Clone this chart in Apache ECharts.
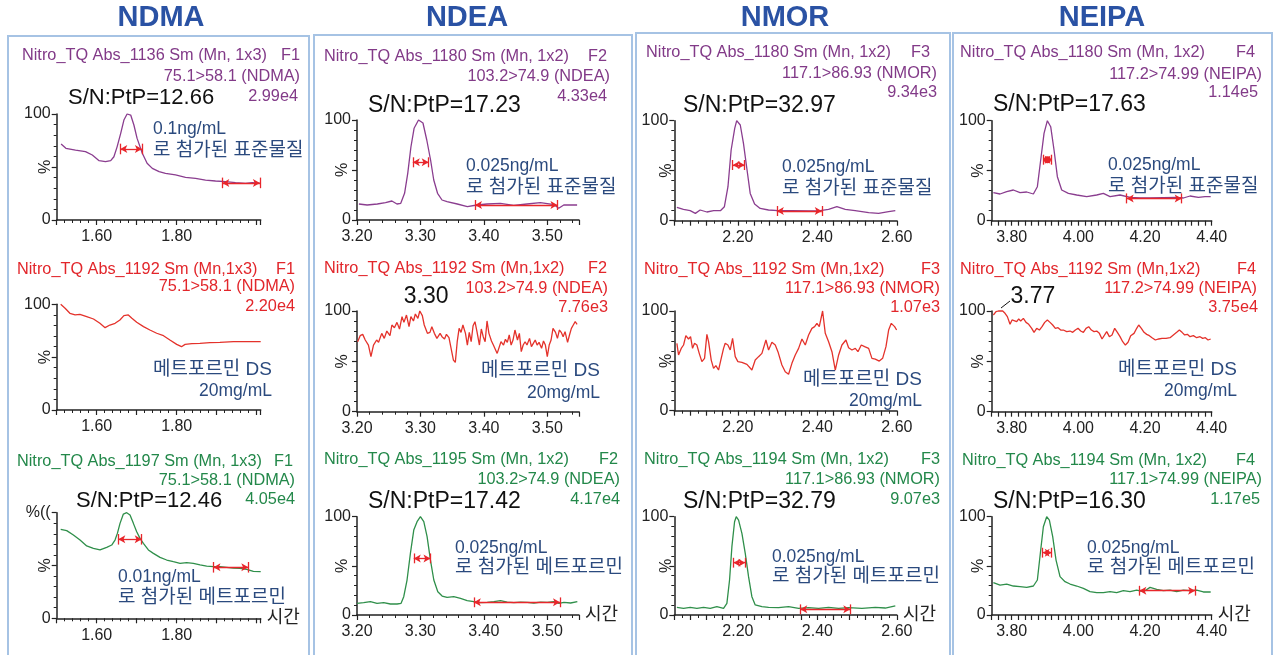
<!DOCTYPE html>
<html><head><meta charset="utf-8">
<script src="https://cdn.jsdelivr.net/npm/echarts@6/dist/echarts.min.js"></script>
<style>html,body{margin:0;padding:0;background:#fff}#c{width:1275px;height:655px}</style>
</head><body><div id="c"></div>
<script>
// ---------------- DATA ----------------
const compounds = ['NDMA', 'NDEA', 'NMOR', 'NEIPA'];
const xTicksNDMA = ['1.60', '1.80'];
const xTicksNDEA = ['3.20', '3.30', '3.40', '3.50'];
const xTicksNMOR = ['2.20', '2.40', '2.60'];
const xTicksNEIPA = ['3.80', '4.00', '4.20', '4.40'];
const yTopLabels = ['100','100','100','100','100','100','100','100','%((','100','100','100'];
const yMidLabel = '%';

const headerL1 = ['Nitro_TQ Abs_1136 Sm (Mn, 1x3)','Nitro_TQ Abs_1180 Sm (Mn, 1x2)','Nitro_TQ Abs_1180 Sm (Mn, 1x2)','Nitro_TQ Abs_1180 Sm (Mn, 1x2)',
  'Nitro_TQ Abs_1192 Sm (Mn,1x3)','Nitro_TQ Abs_1192 Sm (Mn,1x2)','Nitro_TQ Abs_1192 Sm (Mn,1x2)','Nitro_TQ Abs_1192 Sm (Mn,1x2)',
  'Nitro_TQ Abs_1197 Sm (Mn, 1x3)','Nitro_TQ Abs_1195 Sm (Mn, 1x2)','Nitro_TQ Abs_1194 Sm (Mn, 1x2)','Nitro_TQ Abs_1194 Sm (Mn, 1x2)'];
const functionIds = ['F1','F2','F3','F4','F1','F2','F3','F4','F1','F2','F3','F4'];
const transitions = ['75.1>58.1 (NDMA)','103.2>74.9 (NDEA)','117.1>86.93 (NMOR)','117.2>74.99 (NEIPA)',
  '75.1>58.1 (NDMA)','103.2>74.9 (NDEA)','117.1>86.93 (NMOR)','117.2>74.99 (NEIPA)',
  '75.1>58.1 (NDMA)','103.2>74.9 (NDEA)','117.1>86.93 (NMOR)','117.1>74.99 (NEIPA)'];
const intensities = ['2.99e4','4.33e4','9.34e3','1.14e5','2.20e4','7.76e3','1.07e3','3.75e4','4.05e4','4.17e4','9.07e3','1.17e5'];
const snTexts = ['S/N:PtP=12.66','S/N:PtP=17.23','S/N:PtP=32.97','S/N:PtP=17.63',null,null,null,null,
  'S/N:PtP=12.46','S/N:PtP=17.42','S/N:PtP=32.79','S/N:PtP=16.30'];
const notes = [['0.1ng/mL','로 첨가된 표준물질'],['0.025ng/mL','로 첨가된 표준물질'],['0.025ng/mL','로 첨가된 표준물질'],['0.025ng/mL','로 첨가된 표준물질'],
  ['메트포르민 DS','20mg/mL'],['메트포르민 DS','20mg/mL'],['메트포르민 DS','20mg/mL'],['메트포르민 DS','20mg/mL'],
  ['0.01ng/mL','로 첨가된 메트포르민'],['0.025ng/mL','로 첨가된 메트포르민'],['0.025ng/mL','로 첨가된 메트포르민'],['0.025ng/mL','로 첨가된 메트포르민']];

// row 1: spiked standards
const ndmaStd = [[1.511,71.7],[1.523,67.6],[1.547,66],[1.572,64.5],[1.589,61.3],[1.606,56],[1.622,55],[1.635,56],[1.643,59.7],[1.651,69],[1.66,81.8],[1.668,94.3],[1.676,100],[1.685,99],[1.693,89.6],[1.701,77],[1.714,62.9],[1.726,53.5],[1.739,48.7],[1.756,45.6],[1.772,44],[1.797,42.5],[1.822,40.3],[1.847,39.3],[1.872,37.7],[1.897,36.8],[1.922,36.2],[1.947,35.2],[1.972,34.6],[1.989,35.2],[2.01,34.6]];
const ndeaStd = [[3.203,16],[3.216,15],[3.232,16],[3.245,17.3],[3.255,19],[3.263,16],[3.269,16.7],[3.275,26.7],[3.28,46.7],[3.285,73],[3.29,91.7],[3.297,100],[3.304,97],[3.31,80],[3.316,60],[3.321,40],[3.327,26.7],[3.334,20],[3.342,18.3],[3.358,16],[3.374,13.3],[3.389,15],[3.405,16],[3.426,16.7],[3.447,14.7],[3.468,16],[3.489,17.3],[3.511,15.3],[3.518,11.7],[3.526,15],[3.547,15]];
const nmorStd = [[2.0465,13.3],[2.063,11.3],[2.08,10],[2.093,7.3],[2.105,10.7],[2.122,8.7],[2.139,10],[2.156,10],[2.166,14],[2.175,34],[2.183,70.7],[2.192,92.3],[2.197,100],[2.206,95.7],[2.214,77.3],[2.223,50.7],[2.231,27.3],[2.242,16.7],[2.256,12.3],[2.277,10.7],[2.302,10],[2.336,10],[2.378,9.7],[2.407,10],[2.428,11.3],[2.449,14],[2.47,11.3],[2.495,10],[2.529,8],[2.554,7.3],[2.579,9],[2.596,10]];
const neipaStd = [[3.745,28],[3.765,26.7],[3.785,29],[3.805,30.7],[3.825,28],[3.845,28.7],[3.865,26.7],[3.877,34],[3.887,60.7],[3.897,87.3],[3.907,100],[3.917,94],[3.927,70.7],[3.937,44],[3.95,30.7],[3.97,27.3],[3.995,25.7],[4.025,24],[4.055,25.7],[4.075,27.3],[4.095,24],[4.125,25.7],[4.155,23.3],[4.185,22.7],[4.215,22.7],[4.255,23],[4.295,23.3],[4.315,22.7],[4.335,24.7],[4.36,23.3],[4.38,24],[4.397,24]];

// row 2: metformin DS blanks
const ndmaDS = [[1.51,100],[1.521,96.2],[1.533,91.5],[1.546,90],[1.558,90.5],[1.575,88.3],[1.592,86.1],[1.608,82],[1.621,77.9],[1.633,80.4],[1.646,82],[1.658,85.2],[1.668,89.3],[1.679,89.9],[1.688,86.8],[1.70,83],[1.717,78.9],[1.733,75.7],[1.75,72.6],[1.767,70.3],[1.783,66.2],[1.80,62.1],[1.812,59.9],[1.821,62.1],[1.838,62.8],[1.858,63.1],[1.883,63.7],[1.908,64],[1.942,64.7],[1.975,64.7],[2.01,64.7]];
const ndeaDS = [[3.201,69.5],[3.205,75.5],[3.209,76.8],[3.213,71.2],[3.218,66.2],[3.222,54.6],[3.226,66.2],[3.231,71.2],[3.234,68.9],[3.239,77.8],[3.243,72.8],[3.247,80.1],[3.252,75.5],[3.255,86.1],[3.259,83.4],[3.263,88.7],[3.267,82.1],[3.271,94.4],[3.274,88.7],[3.278,96],[3.282,84.4],[3.285,94.4],[3.289,90.1],[3.292,97],[3.296,92.7],[3.299,100],[3.303,95.4],[3.306,86.1],[3.311,77.8],[3.315,78.8],[3.318,84.4],[3.322,77.8],[3.326,72.8],[3.331,77.8],[3.334,74.5],[3.338,72.2],[3.341,76.8],[3.345,73.5],[3.348,74.5],[3.352,51.3],[3.355,49],[3.358,69.5],[3.361,82.8],[3.364,78.8],[3.367,86.1],[3.371,77.8],[3.374,66.2],[3.377,78.8],[3.38,69.5],[3.383,85.4],[3.386,89.4],[3.389,80.1],[3.393,66.2],[3.396,82.1],[3.399,74.5],[3.402,69.5],[3.405,90.1],[3.408,77.8],[3.412,70.2],[3.415,66.2],[3.418,66.2],[3.421,57.9],[3.424,59.6],[3.427,69.5],[3.431,66.2],[3.434,71.9],[3.437,68.9],[3.44,76.2],[3.443,66.2],[3.446,71.2],[3.449,81.1],[3.453,71.2],[3.456,77.8],[3.459,59.6],[3.462,66.2],[3.465,69.5],[3.468,66.2],[3.472,72.8],[3.475,64.6],[3.478,67.9],[3.481,71.2],[3.484,66.2],[3.487,68.9],[3.491,62.9],[3.494,70.2],[3.497,66.2],[3.5,54.6],[3.503,66.2],[3.506,71.2],[3.509,82.8],[3.513,78.8],[3.516,72.8],[3.519,81.1],[3.522,78.8],[3.525,74.5],[3.528,79.5],[3.532,68.9],[3.535,76.2],[3.538,82.8],[3.541,86.1],[3.544,89.4],[3.547,86.8]];
const nmorDS = [[2.0465,67.6],[2.0507,55.9],[2.0574,62.5],[2.0633,65.9],[2.0691,75.3],[2.0758,71.9],[2.0809,74.2],[2.0859,62.5],[2.0909,67.6],[2.0968,65.9],[2.1027,57.5],[2.1094,49.2],[2.1161,52.5],[2.122,76.6],[2.1262,69.2],[2.1329,50.8],[2.1388,42.5],[2.1446,45.2],[2.1513,40.8],[2.158,52.5],[2.1639,62.5],[2.1681,67.6],[2.1748,65.9],[2.1807,60.9],[2.1866,72.6],[2.1933,54.2],[2.2,49.2],[2.2101,48.5],[2.2227,46.5],[2.2352,40.8],[2.2436,50.8],[2.252,54.2],[2.2604,57.5],[2.2705,70.9],[2.2772,60.9],[2.2856,68.6],[2.294,65.9],[2.3007,59.2],[2.3107,45.8],[2.3191,39.1],[2.3275,36.5],[2.3359,47.5],[2.3443,55.9],[2.3527,62.5],[2.3611,71.9],[2.3695,65.9],[2.3779,75.9],[2.3862,82.6],[2.393,84.3],[2.3988,87.6],[2.4047,84.3],[2.4131,100],[2.4198,77.6],[2.4282,69.2],[2.4366,59.2],[2.445,40.8],[2.4534,55.9],[2.4617,65.9],[2.4718,70.9],[2.4785,63.2],[2.4869,60.9],[2.4953,62.5],[2.502,59.2],[2.5104,65.9],[2.5188,64.2],[2.5289,62.5],[2.5372,52.5],[2.5456,51.8],[2.5557,49.8],[2.5641,52.5],[2.5725,64.2],[2.5792,80.9],[2.5859,87.6],[2.5943,84.3],[2.5993,80.9]];
const neipaDS = [[3.745,96],[3.753,99.3],[3.76,100],[3.765,99.3],[3.773,100],[3.78,97.7],[3.787,94.4],[3.795,86.8],[3.801,91.1],[3.807,92.1],[3.815,89.4],[3.821,92.1],[3.827,90.1],[3.835,92.7],[3.843,88.7],[3.851,86.8],[3.86,82.8],[3.867,78.8],[3.875,82.8],[3.883,81.1],[3.891,84.4],[3.899,88.7],[3.907,91.1],[3.915,88.7],[3.923,86.1],[3.931,82.8],[3.939,83.4],[3.947,81.1],[3.955,81.1],[3.965,79.5],[3.975,80.1],[3.983,78.8],[3.991,81.1],[3.999,82.8],[4.007,80.1],[4.015,78.8],[4.023,82.8],[4.031,84.4],[4.039,81.1],[4.047,79.5],[4.055,80.1],[4.063,77.8],[4.071,72.2],[4.077,72.8],[4.085,79.5],[4.093,74.5],[4.101,76.2],[4.109,82.8],[4.117,78.8],[4.125,74.5],[4.133,69.5],[4.141,66.2],[4.149,68.9],[4.157,75.5],[4.167,77.8],[4.175,82.8],[4.181,86.1],[4.189,82.8],[4.197,78.8],[4.205,76.8],[4.213,75.5],[4.221,73.5],[4.231,71.2],[4.241,72.2],[4.251,72.8],[4.263,72.8],[4.275,73.5],[4.285,76.2],[4.295,78.8],[4.303,81.1],[4.311,78.8],[4.319,76.2],[4.327,76.8],[4.335,74.5],[4.345,75.5],[4.355,73.5],[4.365,74.5],[4.373,72.8],[4.381,73.5],[4.389,71.2],[4.397,72.2]];

// row 3: spiked metformin
const ndmaSpk = [[1.51,84.2],[1.525,83],[1.5417,78.9],[1.5583,74.1],[1.575,68.5],[1.5917,66.2],[1.6083,64.7],[1.625,67.2],[1.6375,69.4],[1.6458,74.1],[1.6517,80.4],[1.6583,89.9],[1.6667,98.7],[1.675,100],[1.6833,97.8],[1.6917,89.9],[1.70,82],[1.7083,75.7],[1.7167,71],[1.7292,64.7],[1.7417,61.5],[1.7583,57.7],[1.775,55.2],[1.7917,53.6],[1.8083,52.1],[1.825,52.7],[1.8417,52.1],[1.8583,50.5],[1.875,49.5],[1.8917,48.9],[1.9083,48.9],[1.925,48.3],[1.9417,47.6],[1.9583,47.3],[1.975,46.4],[1.9917,44.5],[2.01,44.2]];
const ndeaSpk = [[3.2,11.9],[3.2105,12.5],[3.2211,13.6],[3.2316,11.9],[3.2421,12.5],[3.2526,11.2],[3.2632,11.2],[3.2695,11.9],[3.2737,18.6],[3.2789,35.6],[3.2842,62.7],[3.2895,86.4],[3.2947,94.9],[3.30,100],[3.3053,94.9],[3.3105,79.7],[3.3158,55.9],[3.3211,35.6],[3.3274,23.7],[3.3342,19.3],[3.3421,18],[3.3526,18.6],[3.3632,16.9],[3.3737,14.6],[3.3842,13.6],[3.3947,12.5],[3.4053,12.9],[3.4158,13.6],[3.4263,14.6],[3.4368,13.2],[3.4474,12.5],[3.4579,13.2],[3.4684,12.9],[3.4789,12.2],[3.4895,13.2],[3.50,12.9],[3.5105,13.6],[3.5184,11.9],[3.5263,12.9],[3.5368,12.2],[3.5474,13.6]];
const nmorSpk = [[2.0465,7.8],[2.0633,6.8],[2.08,7.8],[2.0968,6.8],[2.1136,7.8],[2.1304,6.8],[2.1471,8.5],[2.1639,6.8],[2.1723,11.9],[2.179,35.6],[2.1849,69.5],[2.1916,94.9],[2.1958,100],[2.2017,96.6],[2.2101,83.1],[2.2185,62.7],[2.2268,39],[2.2352,18.6],[2.2436,10.2],[2.2604,8.5],[2.2772,7.8],[2.3023,7.5],[2.3275,8.5],[2.3527,6.8],[2.3779,7.5],[2.403,6.8],[2.4282,7.8],[2.4534,6.8],[2.4785,7.5],[2.5121,6.8],[2.5456,7.8],[2.5708,7.1],[2.596,9.2]];
const neipaSpk = [[3.745,32.9],[3.765,30.5],[3.785,31.5],[3.805,29.5],[3.825,28.8],[3.845,28.1],[3.865,29.5],[3.877,35.6],[3.887,66.1],[3.895,89.8],[3.905,100],[3.913,96.6],[3.923,79.7],[3.933,55.9],[3.945,39],[3.96,33.9],[3.975,31.5],[3.995,29.5],[4.015,27.1],[4.035,23.7],[4.055,22.7],[4.075,22.7],[4.095,23.7],[4.115,22.7],[4.135,24.7],[4.155,23.7],[4.175,25.4],[4.195,23.7],[4.215,28.1],[4.235,26.1],[4.255,24.7],[4.275,25.4],[4.295,23.7],[4.315,25.4],[4.335,24.7],[4.355,25.4],[4.375,23.4],[4.397,23.4]];

// peak-width and noise-window markers: [start, end, level %]
const fwhmMarks = [[1.659,1.713,67],[3.288,3.313,57.7],[2.187,2.217,55.7],[3.895,3.92,61],null,null,null,null,[1.654,1.7125,74.8],[3.2895,3.3158,57.6],[2.189,2.2185,53.2],[3.893,3.92,63.4]];
const noiseMarks = [[1.914,2.008,35],[3.386,3.516,15],[2.298,2.411,9.7],[4.145,4.31,22.3],null,null,null,null,[1.892,1.979,48.3],[3.3842,3.52,12.9],[2.3569,2.4827,5.8],[4.183,4.35,24.7]];
// apex dot drawn on the NEIPA standard peak-width marker: [rt, %]
const apexDots = [null,null,null,[3.907,61],null,null,null,null,null,null,null,null];
// retention-time labels on blank traces: [rt, %, text]
const rtLabels = [null,null,null,null,null,[3.309,100,'3.30'],null,[3.765,100,'3.77'],null,null,null,null];

// ---------------- LAYOUT / STYLE ----------------
const traces = [ndmaStd, ndeaStd, nmorStd, neipaStd, ndmaDS, ndeaDS, nmorDS, neipaDS, ndmaSpk, ndeaSpk, nmorSpk, neipaSpk];
const FONT = "'Liberation Sans', Arial, 'Noto Sans CJK KR', sans-serif";
const rowTraceColor = ['#8a3d8f', '#e4322b', '#2f8f4a'];
const rowTextColor = ['#823a88', '#e2262b', '#23884a'];
const RED = '#e8262b';
const NOTE = '#2b4a7e';
const xCfg = [
  {min:1.50, max:2.01, interval:0.1, minor:5, labels:xTicksNDMA},
  {min:3.20, max:3.55, interval:0.1, minor:5, labels:xTicksNDEA},
  {min:2.04, max:2.60, interval:0.04, minor:2, labels:xTicksNMOR},
  {min:3.74, max:4.40, interval:0.02, minor:0, labels:xTicksNEIPA}
];
const gridBox = [
  [56.7,114,204,106],[357,120,222,100],[674.3,120.7,222.6,100],[991.7,120.7,220,100],
  [56.7,304.3,204,105.7],[357,311,222,100.7],[674.3,311,222.6,99.7],[991.7,311,220,100.7],
  [56.7,512.7,204,105.6],[357,516.7,222,98.3],[674.3,516.7,222.6,98.3],[991.7,516.7,220,98.3]
];
const pctGap = [11,14,8,13, 11,14,8,13, 11,14,8,13];
// text layout: l1x,l1y,fR,l2R,l2y,l3R,l3y,snx,sny,snSize,noteX,noteY1,noteY2,noteAlign
const txt = [
  [22,56,300,300,77,298,97,68,98,22,153,129,151,'left'],
  [324,57,607,610,77,607,97,368,106,23,466,166,188,'left'],
  [646,53,930,937,74,937,93,683,106,23,782,167,189,'left'],
  [960,53,1255,1262,75,1258,93,993,105,23,1108,165,187,'left'],
  [17,270,295,295,287,295,307,0,0,0,272,370,391,'right'],
  [324,269,607,608,289,608,308,0,0,0,600,371,393,'right'],
  [644,270,940,940,289,940,308,0,0,0,922,380,401,'right'],
  [960,270,1256,1257,289,1258,308,0,0,0,1237,370,391,'right'],
  [17,462,293,295,481,295,500,76,501,22,118,577,598,'left'],
  [324,460,618,620,480,620,500,368,502,23,455,548,568,'left'],
  [644,460,940,940,480,940,500,683,502,23,772,557,577,'left'],
  [962,461,1255,1262,480,1260,500,993,502,23,1087,548,568,'left']
];

function T(x, y, text, o, extra) {
  return Object.assign({type:'text', x:x, y:y, silent:true, z:10,
    style: Object.assign({text:text, fill:'#111', fontSize:16.3, fontFamily:FONT,
      align:'left', textAlign:'left', verticalAlign:'middle', textVerticalAlign:'middle'}, o || {})}, extra || {});
}

const grids = [], xAxes = [], yAxes = [], series = [], graphics = [];

// panel frames and titles
[[8,36,301,640],[314,35,318,640],[636,33,314,640],[953,33,319,640]].forEach(b => {
  graphics.push({type:'rect', silent:true, shape:{x:b[0], y:b[1], width:b[2], height:b[3]},
    style:{fill:'none', stroke:'#a6c3e4', lineWidth:2}});
});
[161, 467, 785, 1102].forEach((cx, i) => {
  graphics.push(T(cx, 18, compounds[i], {fontSize:29, fontWeight:'bold', fill:'#2a52a4', align:'center', textAlign:'center'}));
});

traces.forEach((d, i) => {
  const row = Math.floor(i / 4), col = i % 4, xc = xCfg[col], g = gridBox[i];
  grids.push({left:g[0], top:g[1], width:g[2], height:g[3], containLabel:false, outerBoundsMode:'none'});
  xAxes.push({
    type:'value', gridIndex:i, min:xc.min, max:xc.max, interval:xc.interval,
    axisLine:{show:true, onZero:false, lineStyle:{color:'#222', width:1.5}},
    axisTick:{show:true, inside:false, length:5, lineStyle:{color:'#222', width:1.2}},
    minorTick:{show:xc.minor > 0, splitNumber:xc.minor || 1, length:3, lineStyle:{color:'#222', width:1}},
    splitLine:{show:false}, minorSplitLine:{show:false},
    axisLabel:{show:true, margin:9, fontSize:16, color:'#222', fontFamily:FONT, showMinLabel:true, showMaxLabel:true,
      formatter: (v) => { const s = v.toFixed(2); return xc.labels.indexOf(s) >= 0 ? s : ''; }},
    name: row === 2 ? '시간' : '', nameLocation:'end', nameGap:6,
    nameTextStyle:{fontSize:18, color:'#222', fontFamily:FONT, verticalAlign:'middle'}
  });
  yAxes.push({
    type:'value', gridIndex:i, min:0, max:100, interval:50,
    axisLine:{show:true, lineStyle:{color:'#222', width:1.5}},
    axisTick:{show:true, inside:false, length:5, lineStyle:{color:'#222', width:1.2}},
    minorTick:{show:true, splitNumber:5, length:3, lineStyle:{color:'#222', width:1}},
    splitLine:{show:false},
    axisLabel:{show:true, margin:6, fontSize:16, color:'#222', fontFamily:FONT,
      formatter: (v) => v === 100 ? yTopLabels[i] : (v === 0 ? '0' : '')}
  });
  // rotated "%" at the middle of the y axis
  graphics.push(T(g[0] - pctGap[i], g[1] + g[3] / 2, yMidLabel,
    {fontSize:16, fill:'#222', align:'center', textAlign:'center'}, {rotation: Math.PI / 2}));

  const ml = [];
  [fwhmMarks[i], noiseMarks[i]].forEach(a => {
    if (!a) return;
    ml.push([{coord:[a[0], a[2]], symbol:'arrow', symbolSize:[6, 7]}, {coord:[a[1], a[2]], symbol:'arrow', symbolSize:[6, 7]}]);
    ml.push([{coord:[a[0], a[2] - 5], symbol:'none'}, {coord:[a[0], a[2] + 5], symbol:'none'}]);
    ml.push([{coord:[a[1], a[2] - 5], symbol:'none'}, {coord:[a[1], a[2] + 5], symbol:'none'}]);
  });
  const s = {
    type:'line', xAxisIndex:i, yAxisIndex:i, data:d, symbol:'none', silent:true, clip:false,
    lineStyle:{color:rowTraceColor[row], width:1.3}
  };
  if (ml.length) s.markLine = {silent:true, animation:false, symbol:['none','none'], label:{show:false},
    lineStyle:{color:RED, width:1.3, type:'solid'}, emphasis:{disabled:true}, data:ml};
  const rl = rtLabels[i];
  const mp = [];
  if (rl) mp.push({coord:[rl[0], rl[1]], value:rl[2], symbol:'circle', symbolSize:1,
    itemStyle:{color:'rgba(0,0,0,0)'},
    label:{show:true, formatter:rl[2], fontSize:23, color:'#111', fontFamily:FONT,
      position: col === 3 ? 'right' : 'top', distance: col === 3 ? 10 : 2, offset: col === 3 ? [0, -14] : [0, 0]}});
  if (apexDots[i]) mp.push({coord:apexDots[i], symbol:'circle', symbolSize:7, itemStyle:{color:RED}, label:{show:false}});
  if (mp.length) s.markPoint = {silent:true, animation:false, data:mp};
  series.push(s);

  // header texts
  const t = txt[i], tc = rowTextColor[row];
  graphics.push(T(t[0], t[1], headerL1[i], {fill:tc}));
  graphics.push(T(t[2], t[1], functionIds[i], {fill:tc, align:'right', textAlign:'right'}));
  graphics.push(T(t[3], t[4], transitions[i], {fill:tc, align:'right', textAlign:'right'}));
  graphics.push(T(t[5], t[6], intensities[i], {fill:tc, align:'right', textAlign:'right'}));
  if (snTexts[i]) graphics.push(T(t[7], t[8], snTexts[i], {fontSize:t[9], fill:'#111'}));
  const n1Size = row === 1 ? 19 : 17.5;
  const n2Size = row === 1 ? 17.5 : 19;
  graphics.push(T(t[10], t[11], notes[i][0], {fontSize:n1Size, fill:NOTE, align:t[13], textAlign:t[13]}));
  graphics.push(T(t[10], t[12], notes[i][1], {fontSize:n2Size, fill:NOTE, align:t[13], textAlign:t[13]}));
});
// leader line for the 3.77 label
graphics.push({type:'line', silent:true, shape:{x1:1001, y1:308, x2:1010, y2:301}, style:{stroke:'#111', lineWidth:1}});

const chart = echarts.init(document.getElementById('c'), null, {renderer:'canvas'});
chart.setOption({
  animation:false, backgroundColor:'#fff',
  grid:grids, xAxis:xAxes, yAxis:yAxes, series:series, graphic:graphics
});
</script></body></html>
